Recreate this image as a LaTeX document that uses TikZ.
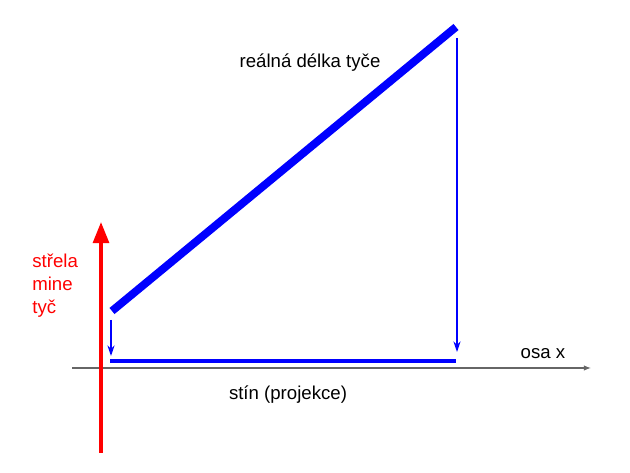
\documentclass[tikz,border=0pt]{standalone}
\usepackage{fontspec}
\setmainfont{Liberation Sans}
\usetikzlibrary{positioning}
\usetikzlibrary{arrows.meta}

\begin{document}
\begin{tikzpicture}
           [x=0.02cm, y=-0.02cm,
            lbl/.style = {font=\fontsize{10.6}{13}\selectfont, inner sep=0pt},
            rod/.style = {draw=blue, line width=4.5pt},
            drop/.style = {draw=blue, line width=0.7pt, -{Stealth[length=6pt, width=4pt]}}]
            \useasboundingbox (0,0) rectangle (630,473);
            % points
            \coordinate (axL) at (72,368);
            \coordinate (axR) at (591,368);
            \coordinate (shotB) at (101,453);
            \coordinate (shotT) at (101,222);
            \coordinate (rodA) at (112,311);
            \coordinate (rodB) at (456,27);
            \coordinate (shA) at (110,361);
            \coordinate (shB) at (456,361);
            \coordinate (dropA) at (111,320);
            \coordinate (dropAe) at (111,356);
            \coordinate (dropB) at (457,38);
            \coordinate (dropBe) at (457,352);

            \node[lbl, anchor=base] (real) at (310,68) {reálná délka tyče};
            \node[lbl, anchor=base] (shadow) at (288,399) {stín (projekce)};
            \node[lbl, anchor=base] (axis) at (543,359) {osa x};
            \node[lbl, anchor=north west, align=left, text=red] (shot) at (32,254)
                 {střela\\mine\\tyč};

            \draw[gray!80!black, line width=0.6pt, -{Latex[length=4pt, width=3pt]}] (axL) -- (axR);
            \draw[red, line width=2pt, -{Triangle[length=12pt, width=9pt]}] (shotB) -- (shotT);
            \draw[rod] (rodA) -- (rodB);
            \draw[blue, line width=2.8pt] (shA) -- (shB);
            \draw[drop] (dropA) -- (dropAe);
            \draw[drop] (dropB) -- (dropBe);
        \end{tikzpicture}
\end{document}
